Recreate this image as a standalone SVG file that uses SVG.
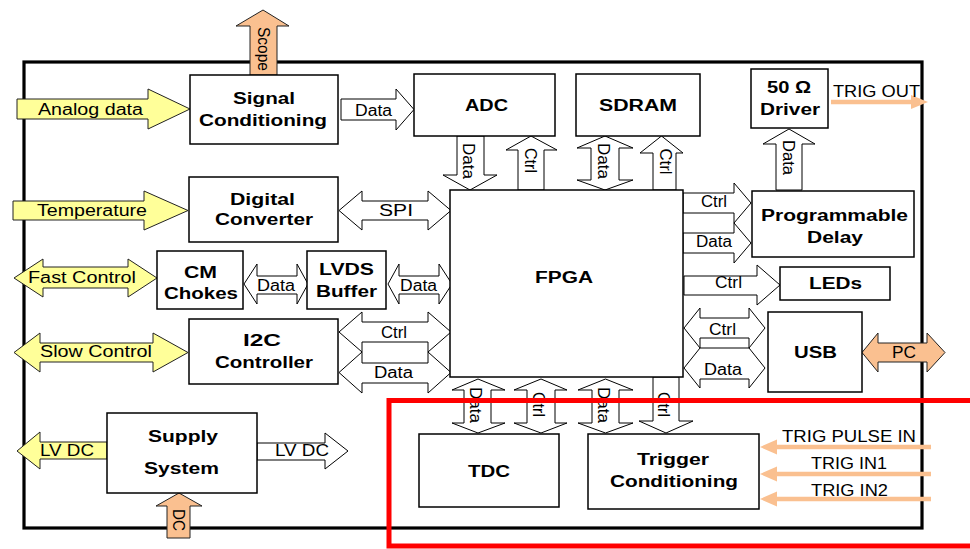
<svg xmlns="http://www.w3.org/2000/svg" width="970" height="549" viewBox="0 0 970 549">
<style>
.box{fill:#fff;stroke:#000;stroke-width:1.5}
.arw{fill:#fff;stroke:#000;stroke-width:1}
.yel{fill:#FFFF99;stroke:#222;stroke-width:1}
.org{fill:#FAC090;stroke:#222;stroke-width:1}
.oline{stroke:#FAC090;stroke-width:4.5;fill:none}
.ohead{fill:#FAC090}
.b{font-family:"Liberation Sans",Arial,sans-serif;font-weight:bold;font-size:16px;text-anchor:middle;fill:#000}
.r{font-family:"Liberation Sans",Arial,sans-serif;font-size:16px;text-anchor:middle;fill:#000}
</style>
<rect width="970" height="549" fill="#fff"/>
<g id="board">
<rect x="24" y="62" width="898" height="466" fill="none" stroke="#000" stroke-width="3.2"/>
</g>
<g id="connectors">
<polygon class="yel" points="17,99 148,99 148,89 190,109 148,129 148,119 17,119"/>
<text class="r" x="90.5" y="115" textLength="105" lengthAdjust="spacingAndGlyphs">Analog data</text>
<polygon class="yel" points="13,201 144,201 144,191 188,210.5 144,230 144,220 13,220"/>
<text class="r" x="92" y="216" textLength="110" lengthAdjust="spacingAndGlyphs">Temperature</text>
<polygon class="yel" points="14,278 43,259 43,267 128,267 128,259 157,278 128,297 128,288 43,288 43,297"/>
<text class="r" x="82" y="283" textLength="108" lengthAdjust="spacingAndGlyphs">Fast Control</text>
<polygon class="yel" points="14,352.5 40,333 40,343 153,343 153,333 188,352.5 153,372 153,362 40,362 40,372"/>
<text class="r" x="96" y="357" textLength="112" lengthAdjust="spacingAndGlyphs">Slow Control</text>
<polygon class="yel" points="17,451 40,432 40,442 107,442 107,459 40,459 40,469"/>
<text class="r" x="67" y="456" textLength="54" lengthAdjust="spacingAndGlyphs">LV DC</text>

<polygon class="arw" points="341,99 396,99 396,89 414,109.5 396,130 396,120 341,120"/>
<text class="r" x="373.5" y="116" textLength="37" lengthAdjust="spacingAndGlyphs">Data</text>
<polygon class="arw" points="339,210.5 362,191 362,201 428,201 428,191 451,210.5 428,230 428,220 362,220 362,230"/>
<text class="r" x="396" y="216" textLength="34" lengthAdjust="spacingAndGlyphs">SPI</text>
<polygon class="arw" points="244,284 257,264 257,276 297,276 297,264 308,284 297,304 297,294 257,294 257,304"/>
<text class="r" x="276" y="291" textLength="38" lengthAdjust="spacingAndGlyphs">Data</text>
<polygon class="arw" points="388,284 399,264 399,276 439,276 439,264 452,284 439,304 439,294 399,294 399,304"/>
<text class="r" x="418.5" y="291" textLength="37" lengthAdjust="spacingAndGlyphs">Data</text>
<polygon class="arw" points="339,332 362,312 362,322 428,322 428,312 451,332 428,352 428,342 362,342 362,352"/>
<text class="r" x="394" y="338" textLength="26" lengthAdjust="spacingAndGlyphs">Ctrl</text>
<polygon class="arw" points="339,372.5 362,352 362,363 428,363 428,352 451,372.5 428,393 428,383 362,383 362,393"/>
<text class="r" x="393.5" y="378" textLength="39" lengthAdjust="spacingAndGlyphs">Data</text>
<polygon class="arw" points="257,443 325,443 325,433 348,451 325,469 325,460 257,460"/>
<text class="r" x="302" y="456" textLength="54" lengthAdjust="spacingAndGlyphs">LV DC</text>

<polygon class="arw" points="683,193 734,193 734,183 751,203 734,223 734,213 683,213"/>
<text class="r" x="714" y="207" textLength="26" lengthAdjust="spacingAndGlyphs">Ctrl</text>
<polygon class="arw" points="683,233 734,233 734,223 751,243 734,263 734,253 683,253"/>
<text class="r" x="714" y="247" textLength="36" lengthAdjust="spacingAndGlyphs">Data</text>
<polygon class="arw" points="684,276 757,276 757,265 780,285 757,305 757,295 684,295"/>
<text class="r" x="728.5" y="288" textLength="27" lengthAdjust="spacingAndGlyphs">Ctrl</text>
<polygon class="arw" points="684,328 700,308 700,318 749,318 749,308 765,328 749,348 749,338 700,338 700,348"/>
<text class="r" x="722.5" y="335" textLength="27" lengthAdjust="spacingAndGlyphs">Ctrl</text>
<polygon class="arw" points="684,368 700,348 749,348 765,368 749,388 749,379 700,379 700,388"/>
<text class="r" x="723" y="375" textLength="38" lengthAdjust="spacingAndGlyphs">Data</text>
<polygon class="org" points="862,352.5 878,333 878,343 927,343 927,333 945,352.5 927,372 927,362 878,362 878,372"/>
<text class="r" x="904" y="358" textLength="24" lengthAdjust="spacingAndGlyphs">PC</text>

<polygon class="org" points="263,10 289,26 277,26 277,75 250,75 250,26 236,26"/>
<text class="r" transform="translate(263.5,49) rotate(90)" x="0" y="6" textLength="44" lengthAdjust="spacingAndGlyphs">Scope</text>
<polygon class="org" points="179,493 202,506 190,506 190,538 167,538 167,506 156,506"/>
<text class="r" transform="translate(178.5,520) rotate(90)" x="0" y="6" textLength="22" lengthAdjust="spacingAndGlyphs">DC</text>

<polygon class="arw" points="457,136 484,136 484,175 497,175 470,190 443,175 457,175"/>
<text class="r" transform="translate(469,161) rotate(90)" x="0" y="6" textLength="36" lengthAdjust="spacingAndGlyphs">Data</text>
<polygon class="arw" points="531,136 557,150 544,150 544,190 518,190 518,150 506,150"/>
<text class="r" transform="translate(531,160.5) rotate(90)" x="0" y="6" textLength="25" lengthAdjust="spacingAndGlyphs">Ctrl</text>
<polygon class="arw" points="605,136 633,148 619,148 619,180 633,180 605,190 577,180 591,180 591,148 577,148"/>
<text class="r" transform="translate(604,161) rotate(90)" x="0" y="6" textLength="36" lengthAdjust="spacingAndGlyphs">Data</text>
<polygon class="arw" points="661.5,136 683,153 676,153 676,190 653,190 653,153 640,153"/>
<text class="r" transform="translate(666,161.5) rotate(90)" x="0" y="6" textLength="26" lengthAdjust="spacingAndGlyphs">Ctrl</text>
<polygon class="arw" points="789,129 815,144 802,144 802,190 776,190 776,144 763,144"/>
<text class="r" transform="translate(788.5,157.5) rotate(90)" x="0" y="6" textLength="35" lengthAdjust="spacingAndGlyphs">Data</text>

<polygon class="arw" points="478,379 505,390 491,390 491,423 505,423 478,433 452,423 464,423 464,390 452,390"/>
<text class="r" transform="translate(476,405) rotate(90)" x="0" y="6" textLength="36" lengthAdjust="spacingAndGlyphs">Data</text>
<polygon class="arw" points="541,379 567,390 555,390 555,423 567,423 541,433 514,423 527,423 527,390 514,390"/>
<text class="r" transform="translate(539,404.5) rotate(90)" x="0" y="6" textLength="25" lengthAdjust="spacingAndGlyphs">Ctrl</text>
<polygon class="arw" points="605.5,379 633,390 619,390 619,423 633,423 605.5,433 578,423 592,423 592,390 578,390"/>
<text class="r" transform="translate(604,405) rotate(90)" x="0" y="6" textLength="36" lengthAdjust="spacingAndGlyphs">Data</text>
<polygon class="arw" points="653,377 679,377 679,421 693,421 666,433 639,421 653,421"/>
<text class="r" transform="translate(664,404.5) rotate(90)" x="0" y="6" textLength="25" lengthAdjust="spacingAndGlyphs">Ctrl</text>

<line class="oline" x1="831" y1="102" x2="913" y2="102"/>
<polygon class="ohead" points="911,95 928,102 911,109"/>
<text class="r" x="876.5" y="97" textLength="87" lengthAdjust="spacingAndGlyphs">TRIG OUT</text>
<line class="oline" x1="931" y1="447" x2="775" y2="447"/>
<polygon class="ohead" points="777,439.5 760,447 777,454.5"/>
<text class="r" x="849" y="442" textLength="134" lengthAdjust="spacingAndGlyphs">TRIG PULSE IN</text>
<line class="oline" x1="931" y1="474" x2="775" y2="474"/>
<polygon class="ohead" points="777,466.5 760,474 777,481.5"/>
<text class="r" x="849" y="469" textLength="76" lengthAdjust="spacingAndGlyphs">TRIG IN1</text>
<line class="oline" x1="931" y1="499" x2="775" y2="499"/>
<polygon class="ohead" points="777,491.5 760,499 777,506.5"/>
<text class="r" x="849.5" y="496" textLength="77" lengthAdjust="spacingAndGlyphs">TRIG IN2</text>
</g>

<g id="signal-conditioning"><rect class="box" x="190" y="75" width="148" height="69"/>
<text class="b" x="264" y="104" textLength="62" lengthAdjust="spacingAndGlyphs">Signal</text>
<text class="b" x="263" y="126" textLength="128" lengthAdjust="spacingAndGlyphs">Conditioning</text></g>
<g id="adc"><rect class="box" x="414" y="74" width="141" height="62"/>
<text class="b" x="486.5" y="111" textLength="43" lengthAdjust="spacingAndGlyphs">ADC</text></g>
<g id="sdram"><rect class="box" x="576" y="74" width="124" height="62"/>
<text class="b" x="638" y="111" textLength="78" lengthAdjust="spacingAndGlyphs">SDRAM</text></g>
<g id="driver"><rect class="box" x="751" y="69" width="77" height="59"/>
<text class="b" x="789" y="93" textLength="44" lengthAdjust="spacingAndGlyphs">50 Ω</text>
<text class="b" x="790" y="115" textLength="60" lengthAdjust="spacingAndGlyphs">Driver</text></g>
<g id="digital-converter"><rect class="box" x="189" y="177" width="149" height="65"/>
<text class="b" x="262.5" y="205" textLength="65" lengthAdjust="spacingAndGlyphs">Digital</text>
<text class="b" x="264" y="225" textLength="98" lengthAdjust="spacingAndGlyphs">Converter</text></g>
<g id="cm-chokes"><rect class="box" x="157" y="251" width="86" height="58"/>
<text class="b" x="200.5" y="278" textLength="33" lengthAdjust="spacingAndGlyphs">CM</text>
<text class="b" x="201" y="299" textLength="74" lengthAdjust="spacingAndGlyphs">Chokes</text></g>
<g id="lvds-buffer"><rect class="box" x="307" y="251" width="79" height="58"/>
<text class="b" x="346.5" y="275" textLength="55" lengthAdjust="spacingAndGlyphs">LVDS</text>
<text class="b" x="346.5" y="297" textLength="61" lengthAdjust="spacingAndGlyphs">Buffer</text></g>
<g id="i2c-controller"><rect class="box" x="189" y="319" width="149" height="65"/>
<text class="b" x="262" y="346" textLength="38" lengthAdjust="spacingAndGlyphs">I2C</text>
<text class="b" x="264" y="368" textLength="98" lengthAdjust="spacingAndGlyphs">Controller</text></g>
<g id="fpga"><rect class="box" x="450" y="190" width="233" height="187"/>
<text class="b" x="564" y="283" textLength="58" lengthAdjust="spacingAndGlyphs">FPGA</text></g>
<g id="programmable-delay"><rect class="box" x="752" y="191" width="162" height="66"/>
<text class="b" x="834.5" y="221" textLength="147" lengthAdjust="spacingAndGlyphs">Programmable</text>
<text class="b" x="835" y="243" textLength="56" lengthAdjust="spacingAndGlyphs">Delay</text></g>
<g id="leds"><rect class="box" x="780" y="267" width="110" height="33"/>
<text class="b" x="835.5" y="289" textLength="53" lengthAdjust="spacingAndGlyphs">LEDs</text></g>
<g id="usb"><rect class="box" x="768" y="312" width="94" height="80"/>
<text class="b" x="815.5" y="358" textLength="43" lengthAdjust="spacingAndGlyphs">USB</text></g>
<g id="supply-system"><rect class="box" x="107" y="413" width="150" height="80"/>
<text class="b" x="183" y="442" textLength="70" lengthAdjust="spacingAndGlyphs">Supply</text>
<text class="b" x="181.5" y="474" textLength="75" lengthAdjust="spacingAndGlyphs">System</text></g>
<g id="tdc"><rect class="box" x="419" y="434" width="140" height="73"/>
<text class="b" x="489" y="477" textLength="42" lengthAdjust="spacingAndGlyphs">TDC</text></g>
<g id="trigger-conditioning"><rect class="box" x="588" y="434" width="171" height="75"/>
<text class="b" x="673" y="465" textLength="72" lengthAdjust="spacingAndGlyphs">Trigger</text>
<text class="b" x="674" y="487" textLength="128" lengthAdjust="spacingAndGlyphs">Conditioning</text></g>

<g id="highlight"><rect x="389" y="400.5" width="600" height="145.5" fill="none" stroke="#FF0000" stroke-width="5"/></g>
</svg>
